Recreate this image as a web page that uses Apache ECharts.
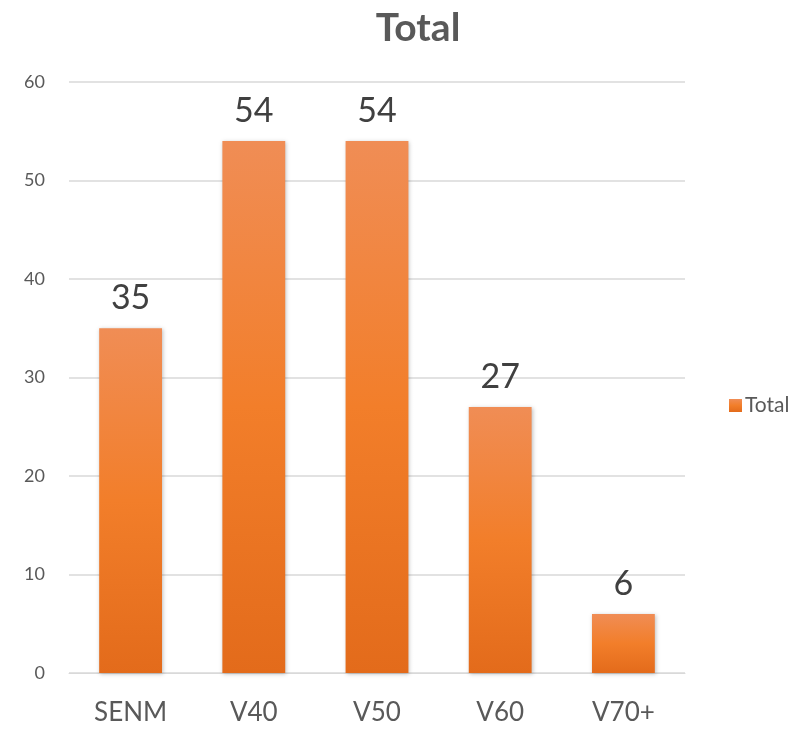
<!DOCTYPE html>
<html lang="en">

<head>
  <meta charset="UTF-8">
  <title>Total</title>
  <script src="https://cdn.jsdelivr.net/npm/echarts@6/dist/echarts.min.js"></script>
  <style>
    body { margin: 0; background: #fff; }
  </style>
</head>

<body>
  <div id="main" style="width: 797px; height: 730px"></div>

  <script>
    let groups = ['SENM', 'V40', 'V50', 'V60', 'V70+']
    let totals = [35, 54, 54, 27, 6]
    let yTicks = [0, 10, 20, 30, 40, 50, 60]

    let myChart = echarts.init(document.getElementById('main'))

    // orange bar, lighter at the top
    let barFill = new echarts.graphic.LinearGradient(0, 0, 0, 1, [
      { offset: 0, color: '#F08D55' },
      { offset: 0.5, color: '#F27E2A' },
      { offset: 1, color: '#E36B1B' }
    ])

    let option = {
      backgroundColor: '#fff',
      textStyle: { fontFamily: 'Lato' },
      title: {
        text: 'Total',
        left: 413,
        top: 4,
        textAlign: 'center',
        textStyle: { fontSize: 39, fontWeight: 'bold', color: '#595959', fontFamily: 'Lato' }
      },
      legend: {
        data: ['Total'],
        left: 724,
        top: 390,
        itemWidth: 13,
        itemHeight: 13,
        itemGap: 4,
        icon: 'rect',
        textStyle: { fontSize: 21, color: '#595959', padding: [0, 0, 0, -2] }
      },
      grid: {
        left: 69,
        right: 112,
        top: 82,
        bottom: 57,
        containLabel: false
      },
      xAxis: {
        type: 'category',
        data: groups,
        axisLine: { lineStyle: { color: '#D9D9D9', width: 1 } },
        axisTick: { show: false },
        axisLabel: { fontSize: 26, color: '#595959', margin: 27 }
      },
      yAxis: {
        type: 'value',
        min: yTicks[0],
        max: yTicks[yTicks.length - 1],
        interval: 10,
        axisLine: { show: false },
        axisTick: { show: false },
        axisLabel: { fontSize: 18, color: '#595959', margin: 24 },
        splitLine: { lineStyle: { color: '#D9D9D9', width: 1.5 } }
      },
      series: [{
        type: 'bar',
        name: 'Total',
        data: totals,
        barWidth: '51%',
        itemStyle: {
          color: barFill,
          shadowColor: 'rgba(0,0,0,0.25)',
          shadowBlur: 4,
          shadowOffsetX: 1,
          shadowOffsetY: 1
        },
        label: {
          show: true,
          position: 'top',
          distance: 13,
          fontSize: 34,
          color: '#404040'
        }
      }]
    }
    myChart.setOption(option)
  </script>
</body>

</html>
